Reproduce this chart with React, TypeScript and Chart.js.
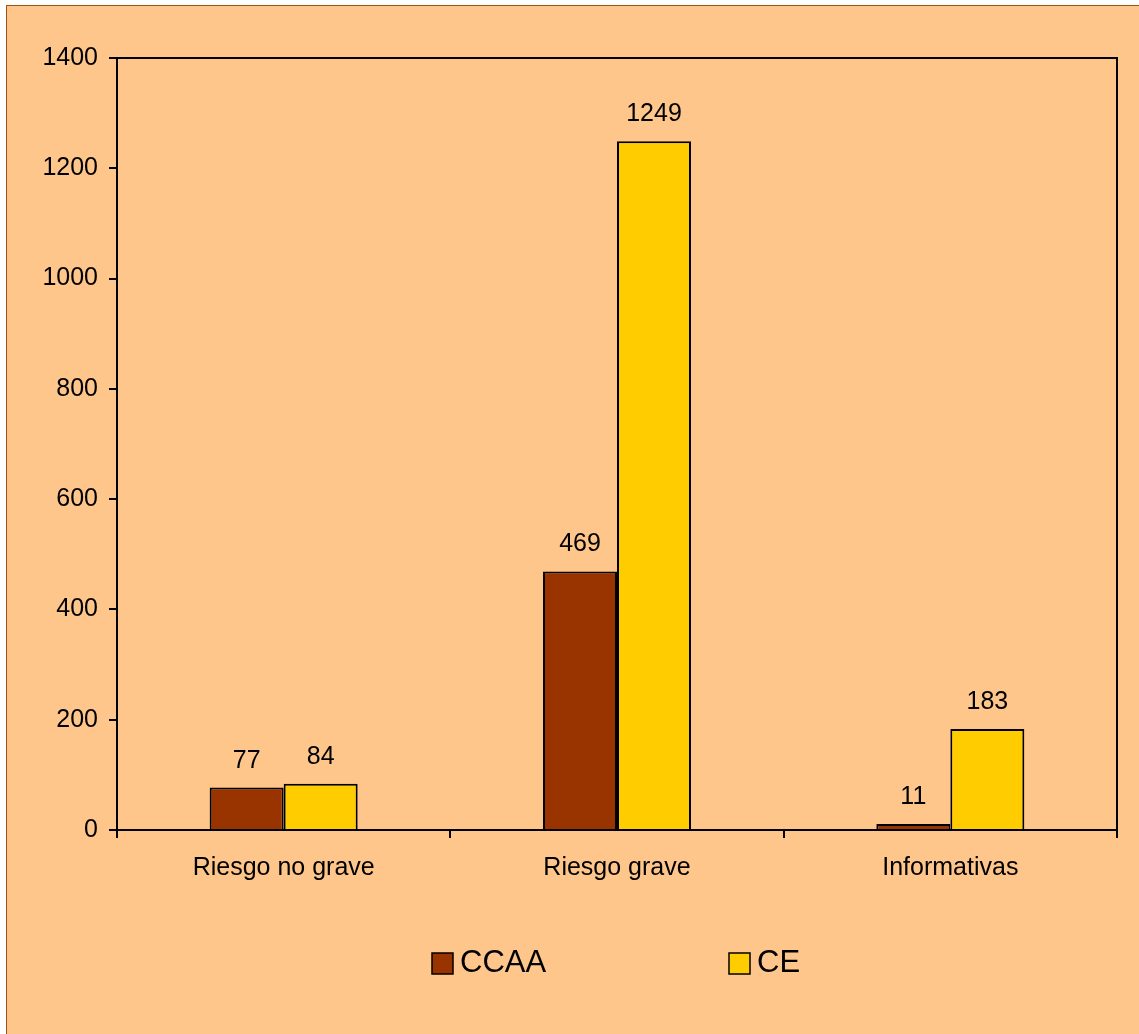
import React, { useEffect, useRef } from "react";
import { Chart, registerables } from "chart.js";

Chart.register(...registerables);

const categories = ["Riesgo no grave", "Riesgo grave", "Informativas"];
const seriesNames = ["CCAA", "CE"];
const ccaaValues = [77, 469, 11];
const ceValues = [84, 1249, 183];
const seriesColors = ["#993300", "#FFCC00"];
const yTickValues = [0, 200, 400, 600, 800, 1000, 1200, 1400];

const FONT = "'Liberation Sans', Arial, 'DejaVu Sans', sans-serif";
const W = 1139;
const H = 1034;

const frameBorder = {
  id: "frameBorder",
  afterDatasetsDraw(chart: any) {
    const { ctx, chartArea } = chart;
    ctx.save();
    ctx.strokeStyle = "#000";
    ctx.lineWidth = 2;
    ctx.beginPath();
    ctx.moveTo(chartArea.left, chartArea.top);
    ctx.lineTo(chartArea.right, chartArea.top);
    ctx.lineTo(chartArea.right, chartArea.bottom);
    ctx.stroke();
    ctx.restore();
  },
};

const valueLabels = {
  id: "valueLabels",
  afterDatasetsDraw(chart: any) {
    const { ctx } = chart;
    ctx.save();
    ctx.font = `25px ${FONT}`;
    ctx.fillStyle = "#000";
    ctx.textAlign = "center";
    ctx.textBaseline = "alphabetic";
    chart.data.datasets.forEach((ds: any, i: number) => {
      const meta = chart.getDatasetMeta(i);
      meta.data.forEach((el: any, j: number) => {
        ctx.fillText(String(ds.data[j]), el.x, el.y - 20);
      });
    });
    ctx.restore();
  },
};

const legendX = [432, 729];
const legendMidY = 963.5;

const customLegend = {
  id: "customLegend",
  afterDraw(chart: any) {
    const { ctx } = chart;
    ctx.save();
    ctx.font = `31px ${FONT}`;
    ctx.textBaseline = "middle";
    ctx.textAlign = "left";
    chart.data.datasets.forEach((ds: any, i: number) => {
      const x = legendX[i];
      const box = 21;
      ctx.fillStyle = ds.backgroundColor;
      ctx.fillRect(x, legendMidY - box / 2, box, box);
      ctx.strokeStyle = "#000";
      ctx.lineWidth = 1.5;
      ctx.strokeRect(x, legendMidY - box / 2, box, box);
      ctx.fillStyle = "#000";
      ctx.fillText(ds.label, x + box + 7, legendMidY);
    });
    ctx.restore();
  },
};

export default function App() {
  const ref = useRef<HTMLCanvasElement | null>(null);

  useEffect(() => {
    if (!ref.current) return;
    const chart = new Chart(ref.current, {
      type: "bar",
      data: {
        labels: categories,
        datasets: [
          {
            label: seriesNames[0],
            data: ccaaValues,
            backgroundColor: seriesColors[0],
            borderColor: "#000",
            borderWidth: 2,
            categoryPercentage: 0.444,
            barPercentage: 1,
          },
          {
            label: seriesNames[1],
            data: ceValues,
            backgroundColor: seriesColors[1],
            borderColor: "#000",
            borderWidth: 2,
            categoryPercentage: 0.444,
            barPercentage: 1,
          },
        ],
      },
      options: {
        responsive: false,
        animation: false,
        devicePixelRatio: 1,
        layout: { padding: { left: 0, top: 58, right: 22, bottom: 144 } },
        plugins: {
          legend: { display: false },
          tooltip: { enabled: false },
          title: { display: false },
        },
        scales: {
          x: {
            offset: true,
            grid: {
              offset: true,
              drawOnChartArea: false,
              drawTicks: true,
              tickLength: 8,
              color: "#000",
              lineWidth: 2,
            },
            border: { display: true, color: "#000", width: 2 },
            ticks: {
              color: "#000",
              font: { family: FONT, size: 25 },
              padding: 15,
              maxRotation: 0,
            },
            afterFit(scale: any) {
              scale.height = 60;
            },
          },
          y: {
            min: 0,
            max: 1400,
            grid: {
              drawOnChartArea: false,
              drawTicks: true,
              tickLength: 8,
              color: "#000",
              lineWidth: 2,
            },
            border: { display: true, color: "#000", width: 2 },
            ticks: {
              color: "#000",
              font: { family: FONT, size: 25 },
              padding: 11,
              callback: (v: any) => String(v),
            },
            afterBuildTicks(scale: any) {
              scale.ticks = yTickValues.map((v) => ({ value: v }));
            },
            afterFit(scale: any) {
              scale.width = 117;
            },
          },
        },
      },
      plugins: [frameBorder, valueLabels, customLegend],
    });
    return () => chart.destroy();
  }, []);

  return (
    <div
      style={{
        position: "fixed",
        left: 0,
        top: 0,
        width: W,
        height: H,
        background: "#fff",
        overflow: "hidden",
      }}
    >
      <div
        style={{
          position: "absolute",
          left: 6,
          top: 5,
          width: 1200,
          height: 1200,
          background: "#FFC68C",
          borderLeft: "1.5px solid #9C5214",
          borderTop: "1.5px solid #9C5214",
        }}
      />
      <canvas
        ref={ref}
        width={W}
        height={H}
        style={{ position: "absolute", left: 0, top: 0, display: "block" }}
      />
    </div>
  );
}
